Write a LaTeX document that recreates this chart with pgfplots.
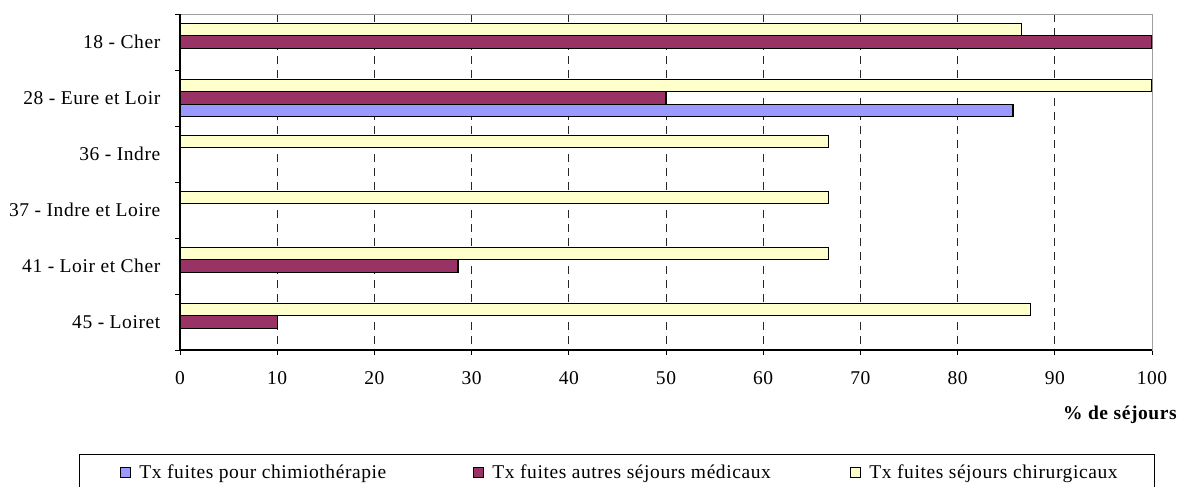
\documentclass[border=0pt]{standalone}
\usepackage{pgfplots}
\pgfplotsset{compat=1.18}
\usepackage{fontspec}
\setmainfont{Liberation Serif}[LetterSpace=3]
\definecolor{cblue}{HTML}{9999FF}
\definecolor{cmaroon}{HTML}{993366}
\definecolor{cyellow}{HTML}{FFFFCC}
\begin{document}
\fontsize{19.5}{23}\selectfont
\begin{tikzpicture}
\path[use as bounding box] (-180pt,-137pt) rectangle (1004pt,350pt);
\begin{axis}[
  scale only axis,
  width=972pt, height=336pt,
  xbar,
  bar width=0.22,
  xmin=0, xmax=100,
  ymin=-0.5, ymax=5.5,
  y dir=reverse,
  xtick={0,10,...,100},
  ytick={0,1,2,3,4,5},
  yticklabels={18 - Cher, 28 - Eure et Loir, 36 - Indre, 37 - Indre et Loire, 41 - Loir et Cher, 45 - Loiret},
  minor ytick={-0.5,0.5,1.5,2.5,3.5,4.5,5.5},
  xtick pos=left, ytick pos=left,
  tick align=outside,
  major tick length=5pt,
  minor tick length=5pt,
  y tick style={draw=none},
  minor y tick style={draw=black, line width=0.8pt},
  x tick style={draw=black, line width=0.8pt},
  /pgf/number format/assume math mode=true,
  xticklabel style={yshift=-10pt},
  yticklabel style={xshift=-8pt},
  xmajorgrids,
  major x grid style={draw=black!85, line width=0.8pt, dash pattern=on 8pt off 6pt},
  axis line style={draw=gray!75, line width=1pt},
  xlabel={\textbf{\% de séjours}},
  xlabel style={at={(axis description cs:1,0)}, anchor=north east, xshift=32pt, yshift=-49pt},
  legend columns=3,
  legend image code/.code={\draw[#1, line width=1pt] (0pt,-5pt) rectangle (10pt,5pt);},
  legend style={at={(axis description cs:-0.1039,-0.3095)}, anchor=north west,
    draw=black, line width=0.8pt, inner xsep=41pt, inner ysep=10pt,
    nodes={inner sep=0pt, anchor=west},
    /tikz/every odd column/.append style={column sep=8pt},
    /tikz/every even column/.append style={column sep=0pt}},
  after end axis/.code={\draw[black, line width=1.2pt] (rel axis cs:0,1) -- (rel axis cs:0,0) -- (rel axis cs:1,0);},
]
\addplot[fill=cblue, draw=black, line width=1.2pt, bar shift=0.22] coordinates {(85.7,1)};
\addplot[fill=cmaroon, draw=black, line width=1.2pt, bar shift=0] coordinates {(100,0) (50,1) (28.6,4) (10,5)};
\addplot[fill=cyellow, draw=black, line width=1.2pt, bar shift=-0.22] coordinates {(86.6,0) (100,1) (66.7,2) (66.7,3) (66.7,4) (87.5,5)};
\legend{\makebox[334pt][l]{Tx fuites pour chimiothérapie}, \makebox[358pt][l]{Tx fuites autres séjours médicaux}, \makebox[244pt][l]{Tx fuites séjours chirurgicaux}}
\end{axis}
\end{tikzpicture}
\end{document}
